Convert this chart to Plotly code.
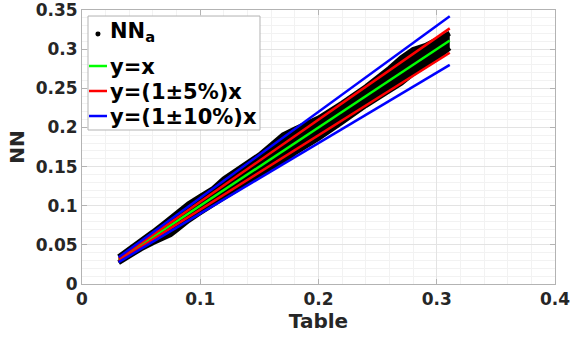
import plotly.graph_objects as go

# Black NN_a cloud, read as upper / lower edges along Table
table_x = [0.031, 0.04, 0.05, 0.06, 0.07, 0.075, 0.08, 0.09, 0.10, 0.11, 0.12, 0.13, 0.14,
           0.15, 0.16, 0.17, 0.18, 0.19, 0.20, 0.22, 0.24, 0.26, 0.27, 0.28, 0.29, 0.30, 0.311]
nn_upper = [0.0347, 0.0440, 0.0550, 0.0666, 0.0784, 0.0848, 0.0912, 0.1026, 0.1120, 0.1210,
            0.1344, 0.1443, 0.1540, 0.1650, 0.1776, 0.1904, 0.1980, 0.2052, 0.2120, 0.2310,
            0.2520, 0.2756, 0.2889, 0.2996, 0.3045, 0.3120, 0.3203]
nn_lower = [0.0273, 0.0360, 0.0450, 0.0528, 0.0595, 0.0630, 0.0688, 0.0810, 0.0910, 0.1012,
            0.1104, 0.1196, 0.1302, 0.1395, 0.1488, 0.1564, 0.1674, 0.1767, 0.1860, 0.2068,
            0.2280, 0.2470, 0.2565, 0.2688, 0.2784, 0.2880, 0.3017]

# Reference lines (end points)
line_x = [0.031, 0.311]
y_eq = [0.031, 0.311]
y_p5 = [0.03255, 0.32655]
y_m5 = [0.02945, 0.29545]
y_p10 = [0.0341, 0.3421]
y_m10 = [0.0279, 0.2799]

x_ticks = [0, 0.1, 0.2, 0.3, 0.4]
y_ticks = [0, 0.05, 0.1, 0.15, 0.2, 0.25, 0.3, 0.35]

legend_labels = ["NN<sub>a</sub>", "y=x", "y=(1±5%)x", "y=(1±10%)x"]
legend_colors = ["black", "#00ff00", "#ff0000", "#0000ff"]

FONT = "DejaVu Sans"
TXT = "#262626"

fig = go.Figure()

# cloud
fig.add_trace(go.Scatter(x=table_x, y=nn_upper, mode="lines", line=dict(color="black", width=5),
                         showlegend=False, hoverinfo="skip", name="NN_a upper"))
fig.add_trace(go.Scatter(x=table_x, y=nn_lower, mode="lines", line=dict(color="black", width=5),
                         fill="tonexty", fillcolor="black", showlegend=False, hoverinfo="skip",
                         name=legend_labels[0]))

fig.add_trace(go.Scatter(x=line_x, y=y_eq, mode="lines", line=dict(color=legend_colors[1], width=2.5),
                         name=legend_labels[1], showlegend=False))
fig.add_trace(go.Scatter(x=line_x, y=y_p5, mode="lines", line=dict(color=legend_colors[2], width=2.5),
                         name=legend_labels[2], showlegend=False))
fig.add_trace(go.Scatter(x=line_x, y=y_m5, mode="lines", line=dict(color=legend_colors[2], width=2.5),
                         name=legend_labels[2], showlegend=False))
fig.add_trace(go.Scatter(x=line_x, y=y_p10, mode="lines", line=dict(color=legend_colors[3], width=2.5),
                         name=legend_labels[3], showlegend=False))
fig.add_trace(go.Scatter(x=line_x, y=y_m10, mode="lines", line=dict(color=legend_colors[3], width=2.5),
                         name=legend_labels[3], showlegend=False))

axis_common = dict(
    showline=True, linecolor="#b3b3b3", linewidth=1, mirror="ticks",
    ticks="inside", ticklen=5, tickcolor="#b3b3b3",
    showgrid=True, gridcolor="#e3e3e3", gridwidth=1,
    zeroline=False, automargin=False, ticklabeloverflow="allow",
    tickfont=dict(family=FONT, size=17, color=TXT, weight="bold"),
)

fig.update_xaxes(range=[0, 0.4], tickvals=x_ticks, ticktext=[f"{v:g}" for v in x_ticks],
                 minor=dict(dtick=0.02, showgrid=True, gridcolor="#f2f2f2", ticks=""),
                 title=dict(text="<b>Table</b>", font=dict(family=FONT, size=20, color=TXT), standoff=4),
                 **axis_common)
fig.update_yaxes(range=[0, 0.35], tickvals=y_ticks, ticktext=[f"{v:g}" for v in y_ticks],
                 minor=dict(dtick=0.01, showgrid=True, gridcolor="#f2f2f2", ticks=""),
                 title=dict(text="<b>NN</b>", font=dict(family=FONT, size=20, color=TXT), standoff=5),
                 **axis_common)

# Manual legend (positions in axis-domain fractions)
shapes = [dict(type="rect", xref="x domain", yref="y domain", x0=0.0127, x1=0.3763,
               y0=0.562, y1=0.978, line=dict(color="#b3b3b3", width=1), fillcolor="white",
               layer="above")]
shapes.append(dict(type="circle", xref="x domain", yref="y domain", x0=0.0285, x1=0.0391,
                   y0=0.9033, y1=0.9215, line=dict(color="black", width=0), fillcolor="black",
                   layer="above"))
row_line_y = [0.7956, 0.7044, 0.6131]
for yy, col in zip(row_line_y, legend_colors[1:]):
    shapes.append(dict(type="line", xref="x domain", yref="y domain", x0=0.0148, x1=0.0529,
                       y0=yy, y1=yy, line=dict(color=col, width=2.5), layer="above"))

row_text_y = [0.92, 0.792, 0.7007, 0.6095]
annotations = []
for yy, lab in zip(row_text_y, legend_labels):
    annotations.append(dict(xref="x domain", yref="y domain", x=0.055, y=yy, xanchor="left",
                            yanchor="middle", showarrow=False, text=f"<b>{lab}</b>",
                            font=dict(family=FONT, size=21, color="black")))

fig.update_layout(
    width=574, height=339,
    margin=dict(l=82, r=19, t=10, b=55),
    paper_bgcolor="white", plot_bgcolor="white",
    showlegend=False, shapes=shapes, annotations=annotations,
)

fig.write_html("out.html")
